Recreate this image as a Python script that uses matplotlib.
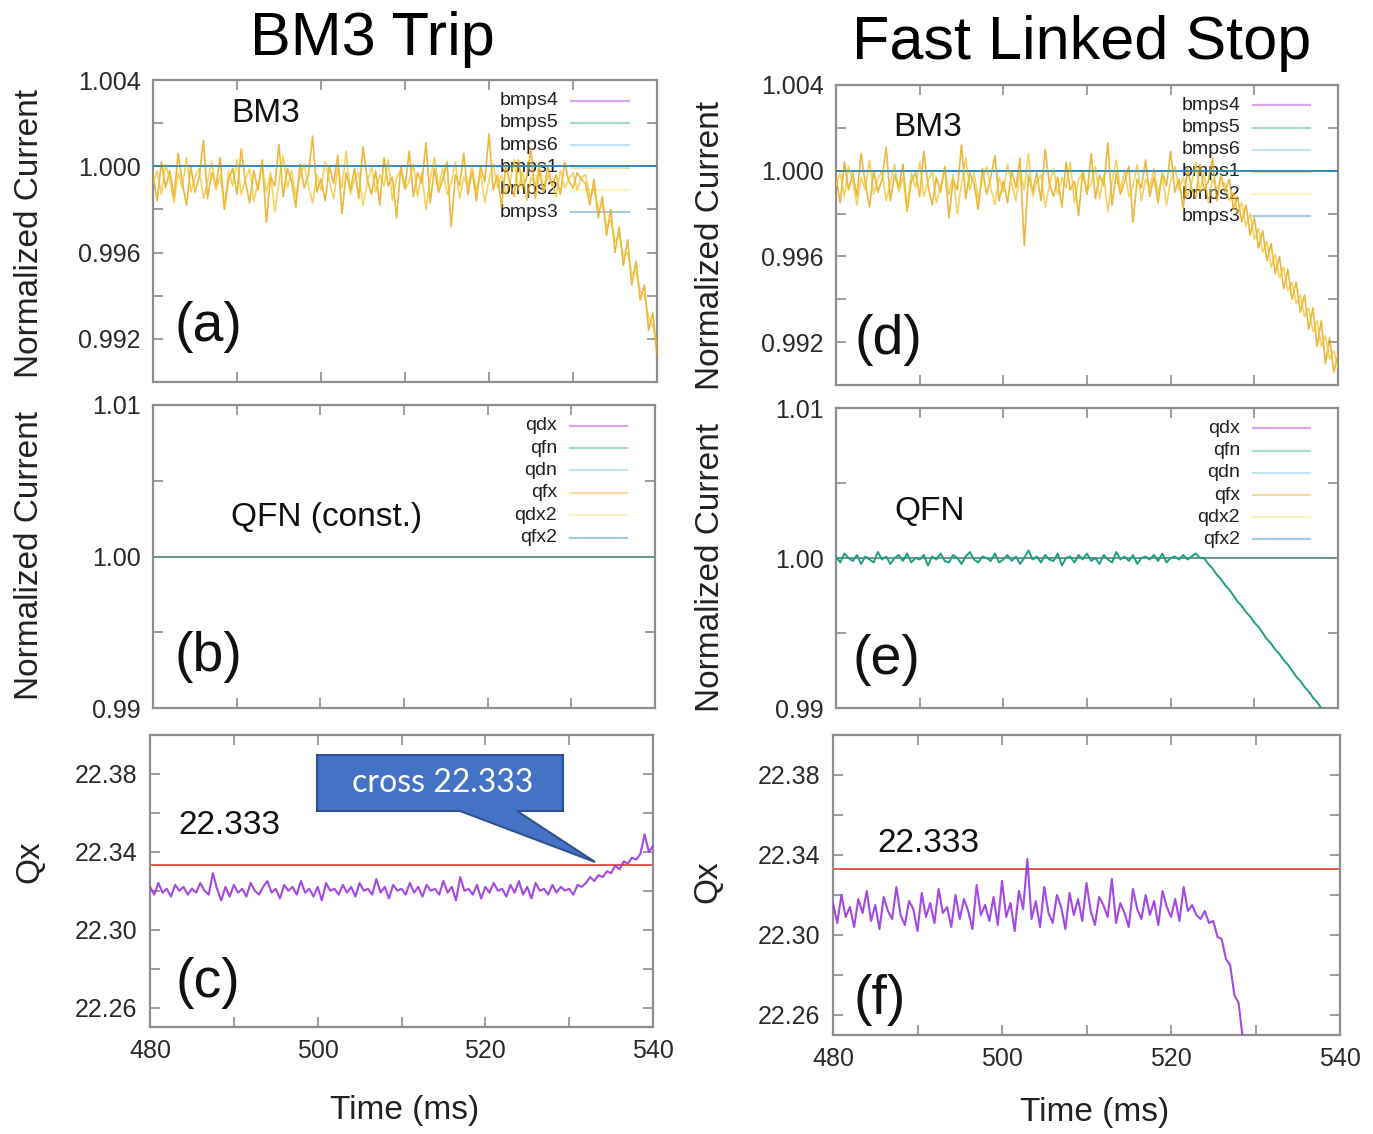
import numpy as np
import matplotlib
matplotlib.use('Agg')
import matplotlib.pyplot as plt
import matplotlib.patches as patches

W, H = 1373, 1134

# sample times (ms), 0.5 ms step
time_ms = np.arange(480, 540.01, 0.5)

# --- BM3 trip, bmps1 / bmps2 deviation from 1.0 in units of 1e-4
a_bmps1 = [-4, -16, 2, -10, -2, -14, 6, -8, -18, 0, -12, -5, 12, -15, -3, -9, 4, -20, -6, -1,
           -13, 8, -7, -17, -2, -11, 3, -26, -5, -9, 10, -14, -1, -7, -19, 1, -10, -4, 14, -12,
           -6, -16, 0, -8, 5, -22, -3, -11, -1, -15, 9, -6, -13, -2, -18, 4, -9, -5, -24, 0,
           -10, 7, -14, -3, -8, 11, -17, -1, -12, -6, 2, -28, -4, -9, 6, -13, -2, -16, 0, -7,
           15, -11, -4, -19, 1, -8, -14, 3, -10, -5, 8, -15, -2, -12, 0, -9, -4, -13, 2, -7,
           -10, -3, -6,
           -8, -18, -6, -24, -14, -32, -20, -40, -28, -46, -34, -55, -44, -62, -55, -76, -68, -88]
a_bmps2 = [-8, -2, -13, 1, -6, -17, -3, -10, 4, -12, -5, -1, -15, -7, 2, -11, -4, -19, -2, -9,
           3, -13, -6, -1, -16, -8, 0, -12, -3, -21, -7, 5, -10, -2, -14, -5, 1, -9, -17, -4,
           -11, 2, -7, -15, -1, -10, 7, -13, -6, -3, -18, -8, 0, -12, -4, -9, 3, -16, -5, -2,
           -11, -7, 1, -14, -3, -20, -6, 4, -10, -1, -13, -8, 2, -15, -5, -9, 0, -12, -3, -17,
           -6, 1, -10, -4, -13, -7, 3, -11, -2, -16, -5, -9, 1, -12, -4, -8, -14, -2, -10, -6,
           -3, -11, -5,
           -4, -14, -10, -20, -18, -28, -25, -35, -32, -42, -40, -50, -48, -58, -60, -70, -74, -82]

# --- Qx during BM3 trip, offset from 22.30 in units of 1e-3
c_qx = [22, 18, 24, 19, 21, 17, 23, 20, 22, 18, 21, 19, 24, 20, 18, 29, 21, 15, 22, 17,
        23, 19, 21, 17, 24, 20, 18, 22, 25, 19, 21, 16, 23, 20, 22, 18, 25, 19, 21, 17,
        22, 15, 24, 20, 21, 18, 23, 19, 22, 17, 24, 20, 21, 18, 26, 19, 22, 16, 23, 20,
        21, 18, 24, 19, 22, 17, 23, 20, 21, 18, 25, 19, 22, 15, 27, 20, 21, 18, 23, 16,
        22, 19, 24, 20, 21, 17, 23, 19, 25, 18, 22, 16, 24, 20, 21, 18, 23, 19, 22, 20,
        21, 18, 23, 22,
        24, 27, 25, 28, 27, 30, 29, 33, 31, 35, 34, 37, 36, 39, 49, 40, 43]

# --- Fast linked stop, bmps1 / bmps2 deviation from 1.0 in units of 1e-4
d_bmps1 = [-3, -15, 4, -9, -1, -12, 8, -6, -17, 0, -10, -4, 11, -14, -2, -8, 3, -19, -5, -1,
           -12, 9, -7, -16, -3, -10, 2, -22, -4, -9, 12, -13, -1, -6, -18, 1, -11, -3, 7, -14,
           -5, -15, 0, -8, 6, -35, -2, -10, -1, -14, 10, -6, -12, -3, -17, 4, -9, -5, -21, 0,
           -11, 8, -13, -2, -7, 13, -16, -1, -11, -5, 2, -24, -4, -8, 5, -12, -3, -15, -1, -7,
           9, -10, -4, -18, 1, -8, -13, 3, -9, -5, 6, -14, -2,
           -10, -4, -18, -12, -24, -16, -30, -22, -36, -28, -42, -34, -48, -40, -55, -46, -60, -52,
           -66, -58, -74, -64, -82, -70, -90, -78, -94, -86]
d_bmps2 = [-7, -1, -12, 2, -5, -16, -3, -9, 5, -11, -4, 0, -14, -6, 3, -10, -3, -18, -1, -8,
           4, -12, -5, 0, -15, -7, 1, -11, -2, -20, -6, 6, -9, -1, -13, -4, 2, -8, -16, -3,
           -10, 3, -6, -14, 0, -9, 8, -12, -5, -2, -17, -7, 1, -11, -3, -8, 4, -15, -4, -1,
           -10, -6, 2, -13, -2, -19, -5, 5, -9, 0, -12, -7, 3, -14, -4, -8, 1, -11, -2, -16,
           -5, 2, -9, -3, -12, -6, 4, -10, -1, -15, -4, -8, -6,
           -6, -14, -10, -20, -15, -26, -20, -32, -27, -38, -33, -45, -39, -50, -45, -56, -52, -62,
           -58, -68, -64, -75, -70, -82, -77, -88, -84, -92]

# --- qfn in fast linked stop, deviation from 1.0 in units of 1e-4
e_qfn = [1, -3, 3, 0, -2, 2, -4, 1, -1, -3, 4, -1, 1, -4, 0, 2, -2, 3, -3, 0,
         -1, 2, -5, 1, -1, 3, -2, -3, 2, 0, -4, 1, 4, -1, -3, 1, 0, -2, 3, -3,
         -1, 2, -2, 1, -4, 0, 5, -1, 1, -3, 2, -1, -2, 3, -5, 0, 1, -3, 2, -1,
         3, -2, 0, -4, 2, -1, -3, 4, -1, 1, -2, 2, -4, 0, 1, -1, 2, -2, 3, -3,
         0, 1, -1, 2, -1, 1, 3, 0,
         0, -4, -7, -11, -14, -18, -21, -25, -29, -32, -36, -39, -43, -46, -50, -54, -57,
         -61, -64, -68, -71, -75, -79, -82, -86, -89, -93, -96, -100, -104, -107, -111, -114]

# --- Qx in fast linked stop, offset from 22.30 in units of 1e-3
f_qx = [16, 6, 20, 9, 14, 4, 18, 11, 22, 7, 15, 3, 19, 12, 8, 24, 10, 5, 17, 13,
        2, 21, 9, 16, 6, 23, 11, 14, 4, 20, 8, 18, 12, 3, 25, 10, 15, 7, 19, 5,
        27, 9, 16, 2, 22, 13, 38, 8, 17, 4, 24, 11, 6, 20, 14, 3, 21, 10, 18, 7,
        26, 12, 5, 19, 15, 9, 28, 6, 16, 11, 4, 23, 13, 8, 20, 10, 17, 5, 22, 14,
        9, 18, 7, 24, 12, 15, 10, 8,
        12, 6, 7, -1, -2, -12, -15, -30, -34, -52, -60]

tune_ref = 22.333
flat_level = 1.0

bmps_labels = ['bmps4', 'bmps5', 'bmps6', 'bmps1', 'bmps2', 'bmps3']
quad_labels = ['qdx', 'qfn', 'qdn', 'qfx', 'qdx2', 'qfx2']
gp_colors = ['#9400D3', '#009E73', '#56B4E9', '#E69F00', '#F0E442', '#0072B2']

plt.rcParams['font.family'] = ['Liberation Sans', 'DejaVu Sans']

fig = plt.figure(figsize=(W / 100, H / 100), dpi=100)


def px(x, y):
    return x / W, 1 - y / H


def make_axes(left, top, right, bottom):
    return fig.add_axes([left / W, 1 - bottom / H, (right - left) / W, (bottom - top) / H])


def style(ax, ylim, major, minor, fmt, show_x):
    ax.set_xlim(480, 540)
    ax.set_ylim(*ylim)
    ax.set_xticks([480, 500, 520, 540])
    ax.set_xticks([490, 510, 530], minor=True)
    ax.set_yticks(major)
    ax.set_yticks(minor, minor=True)
    ax.set_yticklabels([fmt % v for v in major])
    if not show_x:
        ax.set_xticklabels([])
    for s in ax.spines.values():
        s.set_color('#8e8e8e')
        s.set_linewidth(1.6)
    ax.tick_params(which='both', direction='in', length=7, width=1.2, color='#8e8e8e',
                   top=True, right=True, labelsize=18, labelcolor='#2a2a2a', pad=9)


def legend_block(ax, labels):
    for i, (lab, col) in enumerate(zip(labels, gp_colors)):
        y = 0.932 - i * 0.074
        ax.text(0.805, y, lab, transform=ax.transAxes, ha='right', va='center',
                fontsize=14, color='#222222', zorder=1)
        ax.plot([0.83, 0.945], [y, y], transform=ax.transAxes, color=col, lw=1.6,
                alpha=0.35, zorder=1)


def plot_bmps(ax, b1, b2):
    flat = [flat_level] * len(time_ms)
    for col in gp_colors[:3]:
        ax.plot(time_ms, flat, color=col, lw=1.2, alpha=0.5, zorder=2)
    ax.plot(time_ms, 1 + np.array(b1) * 1e-4, color='#E69F00', lw=1.2, alpha=0.75, zorder=3)
    ax.plot(time_ms, 1 + np.array(b2) * 1e-4, color='#F0C020', lw=1.2, alpha=0.7, zorder=3)
    ax.plot(time_ms, flat, color='#0072B2', lw=1.2, alpha=0.55, zorder=4)


# (a)
ax_a = make_axes(153, 80, 657, 382)
plot_bmps(ax_a, a_bmps1, a_bmps2)
legend_block(ax_a, bmps_labels)
style(ax_a, (0.990, 1.004), [0.992, 0.996, 1.000, 1.004], [0.990, 0.994, 0.998, 1.002], '%.3f', False)

# (b)
ax_b = make_axes(153, 405, 655, 708)
for col in gp_colors:
    ax_b.plot(time_ms, [flat_level] * len(time_ms), color=col, lw=1.2, alpha=0.55, zorder=2)
legend_block(ax_b, quad_labels)
style(ax_b, (0.99, 1.01), [0.99, 1.00, 1.01], [0.995, 1.005], '%.2f', False)

# (c)
ax_c = make_axes(150, 735, 653, 1027)
ax_c.axhline(tune_ref, color='#e0584a', lw=1.4, zorder=2)
ax_c.plot(time_ms, 22.30 + np.array(c_qx) * 1e-3, color='#9a35e0', lw=1.5, alpha=0.9, zorder=3)
style(ax_c, (22.25, 22.40), [22.26, 22.30, 22.34, 22.38], [22.28, 22.32, 22.36], '%.2f', True)

# (d)
ax_d = make_axes(836, 85, 1338, 385)
plot_bmps(ax_d, d_bmps1, d_bmps2)
legend_block(ax_d, bmps_labels)
style(ax_d, (0.990, 1.004), [0.992, 0.996, 1.000, 1.004], [0.990, 0.994, 0.998, 1.002], '%.3f', False)

# (e)
ax_e = make_axes(836, 408, 1338, 708)
for i, col in enumerate(gp_colors):
    if i == 1:
        ax_e.plot(time_ms, 1 + np.array(e_qfn) * 1e-4, color='#1f9e86', lw=1.4, zorder=3)
    else:
        ax_e.plot(time_ms, [flat_level] * len(time_ms), color=col, lw=1.2, alpha=0.55, zorder=2)
legend_block(ax_e, quad_labels)
style(ax_e, (0.99, 1.01), [0.99, 1.00, 1.01], [0.995, 1.005], '%.2f', False)

# (f)
ax_f = make_axes(833, 735, 1340, 1035)
ax_f.axhline(tune_ref, color='#e0584a', lw=1.4, zorder=2)
ax_f.plot(time_ms[:len(f_qx)], 22.30 + np.array(f_qx) * 1e-3, color='#9a35e0', lw=1.5,
          alpha=0.9, zorder=3)
style(ax_f, (22.25, 22.40), [22.26, 22.30, 22.34, 22.38], [22.28, 22.32, 22.36], '%.2f', True)

# titles and labels
fig.text(*px(372, 40), 'BM3 Trip', fontsize=44, ha='center', va='center')
fig.text(*px(1082, 43), 'Fast Linked Stop', fontsize=44, ha='center', va='center')

for x, y, s in [(30, 234, 'Normalized Current'), (30, 555, 'Normalized Current'), (30, 862, 'Qx'),
                (710, 245, 'Normalized Current'), (710, 568, 'Normalized Current'), (708, 882, 'Qx')]:
    fig.text(*px(x, y), s, fontsize=24, rotation=90, ha='center', va='center', color='#222222')

fig.text(*px(405, 1110), 'Time (ms)', fontsize=24, ha='center', va='center', color='#222222')
fig.text(*px(1095, 1113), 'Time (ms)', fontsize=24, ha='center', va='center', color='#222222')

for x, y, s in [(208, 327, '(a)'), (208, 657, '(b)'), (208, 983, '(c)'),
                (888, 340, '(d)'), (886, 660, '(e)'), (880, 1000, '(f)')]:
    fig.text(*px(x, y), s, fontsize=40, ha='center', va='center', color='#111111')

for x, y, s in [(266, 113, 'BM3'), (327, 517, 'QFN (const.)'), (229, 826, '22.333'),
                (928, 127, 'BM3'), (930, 512, 'QFN'), (928, 843, '22.333')]:
    fig.text(*px(x, y), s, fontsize=24, ha='center', va='center', color='#111111')

# callout box
callout = [px(317, 755), px(563, 755), px(563, 811), px(517, 811), px(595, 862),
           px(460, 811), px(317, 811)]
fig.patches.append(patches.Polygon(callout, closed=True, transform=fig.transFigure,
                                   facecolor='#4472C4', edgecolor='#2F528F', lw=1.5, zorder=10))
fig.text(*px(443, 783), 'cross 22.333', fontsize=23, ha='center', va='center', color='white',
         family=['Lato', 'DejaVu Sans'], zorder=11)

fig.savefig('out.png', dpi=100)
